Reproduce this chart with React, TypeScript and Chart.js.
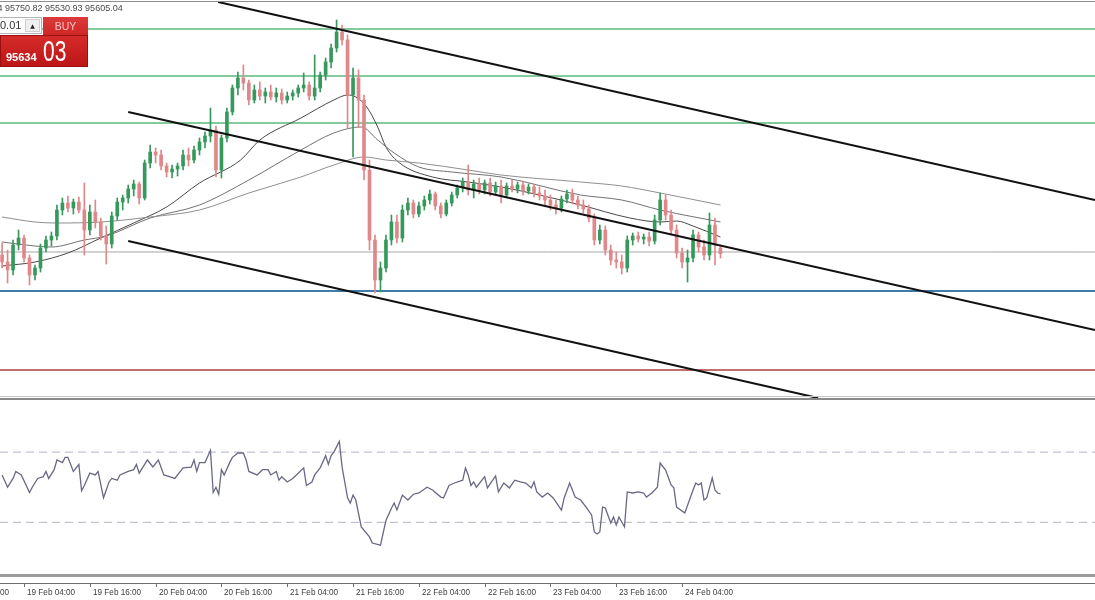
import React, { useEffect, useRef } from "react";
import { Chart, registerables } from "chart.js";

Chart.register(...registerables);

// ---- time axis (hours since 19 Feb 00:00) ----
const barHours = [
  0, 1, 2, 3, 4, 5, 6, 7, 8, 9,
  10, 11, 12, 13, 14, 15, 16, 17, 18, 19,
  20, 21, 22, 23, 24, 25, 26, 27, 28, 29,
  30, 31, 32, 33, 34, 35, 36, 37, 38, 39,
  40, 41, 42, 43, 44, 45, 46, 47, 48, 49,
  50, 51, 52, 53, 54, 55, 56, 57, 58, 59,
  60, 61, 62, 63, 64, 65, 66, 67, 68, 69,
  70, 71, 72, 73, 74, 75, 76, 77, 78, 79,
  80, 81, 82, 83, 84, 85, 86, 87, 88, 89,
  90, 91, 92, 93, 94, 95, 96, 97, 98, 99,
  100, 101, 102, 103, 104, 105, 106, 107, 108, 109,
  110, 111, 112, 113, 114, 115, 116, 117, 118, 119,
  120, 121, 122, 123, 124, 125, 126, 127, 128, 129,
  130, 131,
];

const opens = [
  95583, 95464, 95328, 95753, 95872, 95532, 95243, 95362, 95702, 95838,
  95906, 96348, 96467, 96382, 96484, 96348, 96008, 96314, 96144, 95906,
  95770, 96246, 96484, 96552, 96705, 96790, 96552, 97147, 97334, 97283,
  97096, 96994, 97045, 97096, 97283, 97198, 97368, 97504, 97606, 97708,
  97028, 97572, 98014, 98422, 98592, 98507, 98218, 98388, 98286, 98354,
  98269, 98337, 98218, 98286, 98337, 98422, 98473, 98286, 98422, 98643,
  98864, 99102, 99374, 99238, 98303, 98592, 98218, 97028, 95838, 95158,
  95362, 95838, 96144, 95872, 96348, 96467, 96280, 96416, 96518, 96620,
  96416, 96280, 96467, 96603, 96722, 96824, 96688, 96790, 96688, 96807,
  96654, 96756, 96603, 96756, 96705, 96773, 96671, 96739, 96637, 96586,
  96518, 96433, 96382, 96535, 96620, 96518, 96433, 96365, 96212, 95838,
  96008, 95668, 95498, 95464, 95362, 95838, 95906, 95855, 95889, 95821,
  96178, 96518, 96263, 96008, 95617, 95464, 95532, 95923, 95719, 95583,
  96093, 95702.04,
];

const highs = [
  95787, 95668, 95838, 96008, 95923, 95583, 95413, 95770, 95906, 95974,
  96433, 96552, 96586, 96535, 96569, 96807, 96433, 96518, 96212, 96076,
  96314, 96552, 96603, 96773, 96858, 96824, 97198, 97453, 97402, 97368,
  97147, 97113, 97147, 97368, 97402, 97436, 97572, 97674, 98082, 97776,
  97623, 98082, 98473, 98694, 98813, 98558, 98473, 98524, 98422, 98473,
  98422, 98405, 98354, 98388, 98473, 98677, 98524, 98983, 98694, 98932,
  99170, 99578, 99493, 99323, 98762, 98728, 98303, 97198, 95923, 95464,
  95923, 96263, 96263, 96433, 96552, 96518, 96484, 96586, 96688, 96654,
  96467, 96518, 96654, 96773, 96892, 97113, 96858, 96892, 96858, 96892,
  96824, 96858, 96807, 96858, 96824, 96841, 96790, 96790, 96739, 96688,
  96603, 96518, 96586, 96688, 96705, 96586, 96518, 96433, 96280, 96093,
  96076, 95753, 95634, 95583, 95906, 95957, 95974, 95940, 95974, 96263,
  96637, 96603, 96348, 96093, 95702, 95668, 96008, 95974, 95838, 96297,
  96212, 95750.82,
];

const lows = [
  95362, 95107, 95243, 95668, 95464, 95073, 95158, 95294, 95634, 95736,
  95838, 96263, 96314, 96280, 96297, 95583, 95923, 96042, 95838, 95430,
  95702, 96178, 96348, 96467, 96586, 96450, 96518, 97062, 97147, 97028,
  96909, 96892, 96926, 97028, 97096, 97147, 97283, 97402, 97504, 96909,
  96892, 97504, 97963, 98303, 98388, 98133, 98167, 98218, 98167, 98218,
  98184, 98150, 98167, 98218, 98269, 98354, 98218, 98218, 98354, 98558,
  98762, 99034, 99153, 97742, 97249, 97759, 96858, 95668, 94937, 94954,
  95294, 95753, 95787, 95804, 96263, 96212, 96229, 96348, 96450, 96348,
  96212, 96246, 96416, 96552, 96654, 96603, 96552, 96620, 96620, 96586,
  96603, 96467, 96569, 96654, 96637, 96603, 96620, 96569, 96518, 96433,
  96348, 96280, 96314, 96467, 96450, 96365, 96297, 96144, 95753, 95770,
  95583, 95413, 95362, 95260, 95294, 95753, 95804, 95770, 95736, 95770,
  96093, 96178, 95923, 95532, 95362, 95124, 95464, 95634, 95498, 95498,
  95413, 95530.93,
];

const closes = [
  95464, 95328, 95753, 95872, 95532, 95243, 95362, 95702, 95838, 95906,
  96348, 96467, 96382, 96484, 96348, 96008, 96314, 96144, 95906, 95770,
  96246, 96484, 96552, 96705, 96790, 96552, 97147, 97334, 97283, 97096,
  96994, 97045, 97096, 97283, 97198, 97368, 97504, 97606, 97708, 97028,
  97572, 98014, 98422, 98592, 98507, 98218, 98388, 98286, 98354, 98269,
  98337, 98218, 98286, 98337, 98422, 98473, 98286, 98422, 98643, 98864,
  99102, 99374, 99238, 98303, 98592, 98218, 97028, 95838, 95158, 95362,
  95838, 96144, 95872, 96348, 96467, 96280, 96416, 96518, 96620, 96416,
  96280, 96467, 96603, 96722, 96824, 96688, 96790, 96688, 96807, 96654,
  96756, 96603, 96756, 96705, 96773, 96671, 96739, 96637, 96586, 96518,
  96433, 96382, 96535, 96620, 96518, 96433, 96365, 96212, 95838, 96008,
  95668, 95498, 95464, 95362, 95838, 95906, 95855, 95889, 95821, 96178,
  96518, 96263, 96008, 95617, 95464, 95532, 95923, 95719, 95583, 96093,
  95753, 95605.04,
];

// ---- moving averages ----
const maFastHours = [0, 6, 12, 18, 24, 30, 36, 43.5, 47, 54.5, 60.5, 63, 64.5, 66.5, 68.5, 70, 72.5, 78.5, 85, 91, 98, 105.5, 114.5, 120, 123, 126, 131];
const maFastValues = [95396, 95464, 95617, 95872, 96127, 96399, 96807, 97198, 97538, 97912, 98218, 98303, 98269, 98099, 97759, 97419, 97147, 96909, 96824, 96739, 96603, 96433, 96212, 96144, 96161, 96076, 95889];

const maMidHours = [0, 6, 9, 15, 19, 27, 36, 45, 54.5, 60.5, 65.5, 68.5, 71.5, 76, 82, 91, 105.5, 113, 120, 131];
const maMidValues = [95804, 95736, 95719, 95838, 95906, 96212, 96433, 96858, 97368, 97657, 97759, 97538, 97317, 97079, 96994, 96909, 96603, 96518, 96348, 96144];

const maSlowHours = [0, 6, 10, 18, 27, 36, 45, 54.5, 60.5, 66, 70, 76, 85, 91, 105.5, 113, 120, 131];
const maSlowValues = [96229, 96144, 96127, 96144, 96229, 96348, 96637, 96909, 97113, 97249, 97198, 97147, 97028, 96943, 96824, 96756, 96637, 96433];

// ---- RSI ----
const rsiHours = [
  0, 1, 2, 2.5, 3.5, 5, 5.5, 6.5, 7.5, 8,
  8.5, 9.5, 10, 11, 11.5, 12, 13, 14, 14.5, 15,
  16, 17, 17.5, 18.5, 19.5, 20, 21, 21.5, 23, 24,
  24.5, 25, 26.5, 27.5, 28.5, 29.5, 30.5, 31.5, 33, 34.5,
  35, 35.5, 36, 37, 38, 38.5, 39, 39.5, 40, 40.5,
  41.5, 42, 43, 44, 44.5, 45, 46.5, 47.5, 48.5, 49,
  50, 50.5, 51, 52, 53, 54, 55, 55.5, 56.5, 57,
  58, 59, 59.5, 60, 60.5, 61.5, 62, 63, 63.5, 64,
  64.5, 65.5, 67, 67.5, 69, 70, 71, 71.5, 72, 73,
  74, 75, 76, 77.5, 78.5, 80, 80.5, 81.5, 82.5, 84,
  84.5, 85, 85.5, 86, 86.5, 88, 88.5, 90, 90.5, 91.5,
  92.5, 93.5, 94.5, 95.5, 96.5, 97, 97.5, 98.5, 99.5, 100.5,
  102, 102.5, 103.5, 104.5, 105.5, 106.5, 107.5, 108, 108.5, 109,
  109.5, 110, 111, 111.5, 112, 112.5, 113, 113.5, 114, 115,
  116, 117, 117.5, 118.5, 119.5, 120, 121, 122, 122.5, 123,
  124.5, 126, 126.5, 127, 127.5, 128, 128.5, 129.5, 130, 130.5,
  131,
];
const rsiValues = [
  57, 50, 55, 59, 57, 47, 50, 55, 56, 59,
  55, 60, 65.5, 64, 67, 67, 59, 63, 48, 51,
  58, 57, 59, 44, 53, 55, 54, 57, 59, 60,
  63, 58, 65.5, 61.5, 65.5, 57, 56, 55, 61, 61.5,
  65.5, 59, 64, 64, 71, 47, 50, 46, 60, 57,
  64, 67, 69.5, 69.5, 65.5, 59, 57, 60, 60, 57,
  59, 54, 56, 53, 55, 58, 61, 51, 53, 57,
  61, 68, 63, 68, 70, 76, 61.5, 44, 41, 45.5,
  42.7, 27.4, 21.7, 18.2, 17, 31, 38, 41, 37, 45.5,
  42.7, 46, 46.7, 50, 48.4, 44.4, 43.9, 51, 52.4, 54,
  61, 57, 51, 53, 50, 56, 49.6, 56.4, 47.3, 52.4,
  49.6, 54, 53, 52.4, 49.6, 53, 47.3, 44.4, 46.7, 43.9,
  37, 43.9, 52.4, 44.4, 42.7, 38.7, 34.2, 24.5, 23.4, 24.5,
  38.7, 38.2, 29.6, 33, 28.5, 33, 30.2, 27.4, 47.3, 46.7,
  47.3, 46.7, 44.4, 46.7, 50, 63.8, 59.8, 51.3, 49.6, 38.7,
  35.3, 48.4, 52.4, 51.3, 52.4, 42.7, 43.9, 55.3, 48.4, 46.7,
  46.2,
];
const rsiLevels = [70, 30];

// ---- horizontal levels ----
const greenLevels = [99425, 98626, 97827];
const bidLevel = 95634.03;
const blueLevel = 94971;
const redLevel = 93628;

// ---- trend channel lines ----
const trendStartHours = [39.4, 23.0, 23.0];
const trendStartPrices = [99884, 98014, 95821];
const trendEndHours = [199.3, 199.3, 148.8];
const trendEndPrices = [96518, 94308, 93152];

// ---- axis labels ----
const tickHours = [-8, 4, 16, 28, 40, 52, 64, 76, 88, 100, 112, 124];
const tickLabels = [
  "18 Feb 16:00", "19 Feb 04:00", "19 Feb 16:00", "20 Feb 04:00", "20 Feb 16:00",
  "21 Feb 04:00", "21 Feb 16:00", "22 Feb 04:00", "22 Feb 16:00", "23 Feb 04:00",
  "23 Feb 16:00", "24 Feb 04:00",
];

const headerValues = ["95702.04", "95750.82", "95530.93", "95605.04"];
const lotText = "0.01";
const bidBig = "95634";
const bidSmall = "03";

// axis ranges
const X_MIN = -0.38;
const X_MAX = 199.3;
const PRICE_MIN = 90143;
const PRICE_MAX = 99918;
const RSI_MIN = 0;
const RSI_MAX = 327.5;

const UP = "#36995c";
const DOWN = "#e0878a";

const chromePlugin = {
  id: "chrome",
  beforeDraw(chart: any) {
    const ctx = chart.ctx;
    ctx.save();
    ctx.fillStyle = "#ffffff";
    ctx.fillRect(0, 0, chart.width, chart.height);
    ctx.restore();
  },
  afterDraw(chart: any) {
    const ctx = chart.ctx;
    const xs = chart.scales.x;
    const rs = chart.scales.y2;
    const W = chart.width;
    ctx.save();
    // top frame
    ctx.fillStyle = "#8e8e8e";
    ctx.fillRect(0, 1, W, 1);
    // separator between price and RSI windows
    const sepY = Math.round(rs.getPixelForValue(100));
    ctx.fillStyle = "#c6c6c6";
    ctx.fillRect(0, sepY - 3, W, 1);
    ctx.fillStyle = "#8a8a8a";
    ctx.fillRect(0, sepY - 1, W, 2);
    // bottom separator
    const botY = Math.round(rs.getPixelForValue(0));
    ctx.fillStyle = "#9c9c9c";
    ctx.fillRect(0, botY - 1, W, 3);
    // time axis
    const axisY = botY + 8;
    ctx.fillStyle = "#6e6e6e";
    ctx.fillRect(0, axisY, W, 1);
    ctx.font = '9.5px "Liberation Sans", Arial, sans-serif';
    ctx.textBaseline = "alphabetic";
    ctx.textAlign = "left";
    tickHours.forEach((h, i) => {
      const px = Math.round(xs.getPixelForValue(h));
      ctx.fillStyle = "#6e6e6e";
      ctx.fillRect(px, axisY, 1, 4);
      ctx.fillStyle = "#3c3c3c";
      ctx.save();
      ctx.translate(px + 3, axisY + 12);
      ctx.scale(0.86, 1);
      ctx.fillText(tickLabels[i], 0, 0);
      ctx.restore();
    });
    ctx.restore();
  },
};

export default function App() {
  const canvasRef = useRef<HTMLCanvasElement | null>(null);

  useEffect(() => {
    const canvas = canvasRef.current;
    if (!canvas) return;
    const colorOf = (i: number) => (closes[i] >= opens[i] ? UP : DOWN);
    const pts = (xs: number[], ys: number[]) => xs.map((x, i) => ({ x, y: ys[i] }));
    const hLine = (v: number) => [
      { x: X_MIN, y: v },
      { x: X_MAX, y: v },
    ];
    const flat = (data: any, color: string, width: number, extra: any = {}) => ({
      type: "line",
      data,
      borderColor: color,
      borderWidth: width,
      pointRadius: 0,
      fill: false,
      yAxisID: "y",
      order: 5,
      ...extra,
    });

    const datasets: any[] = [];
    greenLevels.forEach((v) => datasets.push(flat(hLine(v), "#5cb87f", 1.4)));
    datasets.push(flat(hLine(bidLevel), "#a6a6a6", 1));
    datasets.push(flat(hLine(blueLevel), "#3d7cab", 2));
    datasets.push(flat(hLine(redLevel), "#b03c3c", 1.5));

    datasets.push(
      flat(pts(maSlowHours, maSlowValues), "#8f8f8f", 1, { cubicInterpolationMode: "monotone", order: 4 }),
      flat(pts(maMidHours, maMidValues), "#727272", 1, { cubicInterpolationMode: "monotone", order: 4 }),
      flat(pts(maFastHours, maFastValues), "#4e4848", 1, { cubicInterpolationMode: "monotone", order: 4 })
    );

    datasets.push({
      type: "bar",
      data: barHours.map((h, i) => ({ x: h, y: [lows[i], highs[i]] })),
      backgroundColor: (c: any) => colorOf(c.dataIndex),
      barThickness: 1,
      grouped: false,
      borderWidth: 0,
      yAxisID: "y",
      order: 3,
    });
    datasets.push({
      type: "bar",
      data: barHours.map((h, i) => ({ x: h, y: [opens[i], closes[i]] })),
      backgroundColor: (c: any) => colorOf(c.dataIndex),
      barThickness: 3,
      minBarLength: 1,
      grouped: false,
      borderWidth: 0,
      yAxisID: "y",
      order: 2,
    });

    trendStartHours.forEach((h, i) => {
      datasets.push(
        flat(
          [
            { x: h, y: trendStartPrices[i] },
            { x: trendEndHours[i], y: trendEndPrices[i] },
          ],
          "#111111",
          2,
          { order: 1 }
        )
      );
    });

    rsiLevels.forEach((v) =>
      datasets.push(
        flat(hLine(v), "#b4b4c8", 1, { yAxisID: "y2", borderDash: [8, 5] })
      )
    );
    datasets.push(
      flat(pts(rsiHours, rsiValues), "#686884", 1.3, { yAxisID: "y2", order: 1 })
    );

    const chart = new Chart(canvas, {
      type: "bar",
      data: { datasets },
      options: {
        responsive: false,
        animation: false,
        events: [],
        devicePixelRatio: 1,
        layout: { padding: { left: 0, right: 0, top: 0, bottom: 25 } },
        plugins: { legend: { display: false }, tooltip: { enabled: false } },
        scales: {
          x: { type: "linear", min: X_MIN, max: X_MAX, offset: false, display: false },
          y: { type: "linear", min: PRICE_MIN, max: PRICE_MAX, display: false, beginAtZero: false },
          y2: { type: "linear", min: RSI_MIN, max: RSI_MAX, display: false, beginAtZero: false },
        },
      } as any,
      plugins: [chromePlugin],
    } as any);

    return () => chart.destroy();
  }, []);

  return (
    <div
      style={{
        position: "fixed",
        left: 0,
        top: 0,
        width: 1095,
        height: 600,
        overflow: "hidden",
        background: "#fff",
      }}
    >
      <canvas ref={canvasRef} width={1095} height={600} style={{ display: "block", width: 1095, height: 600 }} />
      <div
        style={{
          position: "absolute",
          left: -35,
          top: 3,
          font: '9px "Liberation Sans", Arial, sans-serif',
          lineHeight: "10px",
          color: "#4a4a4a",
          whiteSpace: "pre",
        }}
      >
        {headerValues.join(" ")}
      </div>
      {/* lot input */}
      <div
        style={{
          position: "absolute",
          left: -1,
          top: 17,
          width: 43,
          height: 17,
          background: "#fff",
          border: "1px solid #b4b4b4",
          boxSizing: "border-box",
        }}
      >
        <span
          style={{
            position: "absolute",
            left: 0,
            top: 1,
            font: '11px "Liberation Sans", Arial, sans-serif',
            lineHeight: "13px",
            color: "#333",
          }}
        >
          {lotText}
        </span>
        <div
          style={{
            position: "absolute",
            left: 25,
            top: 1,
            width: 15,
            height: 13,
            background: "#efefef",
            border: "1px solid #cfcfcf",
            boxSizing: "border-box",
            font: '6px "DejaVu Sans", sans-serif',
            lineHeight: "11px",
            textAlign: "center",
            color: "#222",
          }}
        >
          ▲
        </div>
      </div>
      {/* BUY button */}
      <div
        style={{
          position: "absolute",
          left: 43,
          top: 17,
          width: 45,
          height: 18,
          background: "linear-gradient(#dc3b3b, #cf2626)",
          color: "#f6c4c4",
          font: '10.5px "Liberation Sans", Arial, sans-serif',
          lineHeight: "18px",
          textAlign: "center",
        }}
      >
        BUY
      </div>
      {/* price box */}
      <div
        style={{
          position: "absolute",
          left: 0,
          top: 35,
          width: 88,
          height: 32,
          background: "linear-gradient(#d62b2b, #bc1616)",
          border: "1px solid #9a1010",
          boxSizing: "border-box",
          color: "#fff",
        }}
      >
        <span
          style={{
            position: "absolute",
            left: 5,
            top: 15,
            font: 'bold 11px "Liberation Sans", Arial, sans-serif',
            lineHeight: "12px",
          }}
        >
          {bidBig}
        </span>
        <span
          style={{
            position: "absolute",
            left: 42,
            top: 0,
            font: '30px "Liberation Sans", Arial, sans-serif',
            lineHeight: "30px",
            transform: "scaleX(0.7)",
            transformOrigin: "left top",
            display: "inline-block",
          }}
        >
          {bidSmall}
        </span>
      </div>
    </div>
  );
}
